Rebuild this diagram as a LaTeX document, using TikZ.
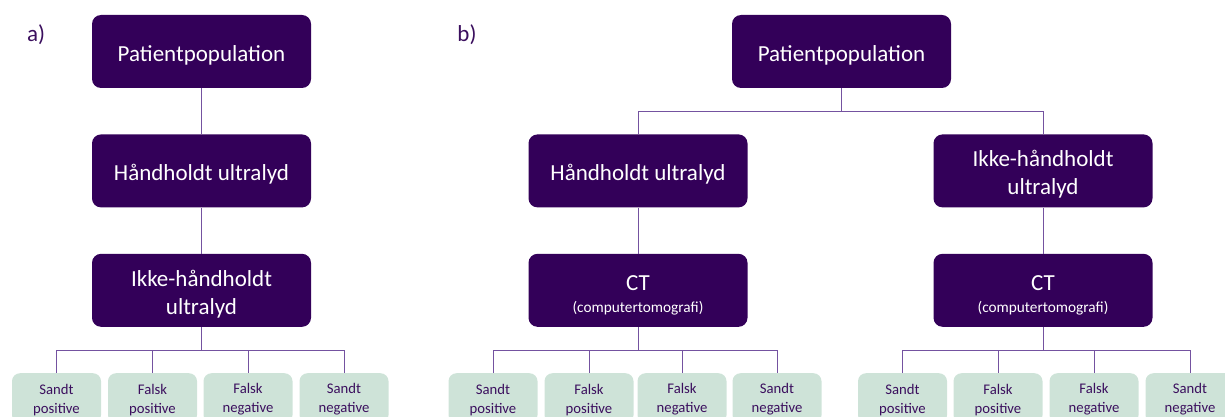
\documentclass[tikz,border=0pt]{standalone}
\usepackage{fontspec}
\setmainfont{Carlito}
\usetikzlibrary{positioning,calc}
\definecolor{darkpurple}{HTML}{330059}
\definecolor{linepurple}{HTML}{7452A0}
\definecolor{leafgreen}{HTML}{CEE3D8}
\definecolor{leaftext}{HTML}{3B0F5E}
\tikzset{
    lower/.style={execute at begin node={\rule{0pt}{#1}}},
    big_block/.style={rectangle, rounded corners=9pt, fill=darkpurple, text=white, minimum width=219pt, minimum height=73pt, inner sep=0pt, text centered, align=center, font=\fontsize{23}{28}\selectfont, lower=23pt},
    two_block/.style={big_block, lower=51.5pt},
    ct_block/.style={big_block, lower=47.5pt},
    leaf/.style={rectangle, rounded corners=8pt, fill=leafgreen, text=leaftext, minimum width=89pt, minimum height=50pt, inner sep=0pt, text centered, align=center, font=\fontsize{14.7}{19}\selectfont, lower=32pt},
    link/.style={draw=linepurple, line width=0.9pt},
    panel/.style={text=leaftext, font=\fontsize{23}{27}\selectfont},
}

\begin{document}
\begin{tikzpicture}[x=1pt, y=1pt, node distance=46pt]
        \useasboundingbox (0,0) rectangle (1225,-417);

        % Panel a: one chain
        \node[panel] (labela) at (36,-35) {a)};
        \node[big_block] (apop) at (201.5,-51.5) {Patientpopulation};
        \node[big_block,below=of apop] (ahh) {Håndholdt ultralyd};
        \node[two_block,below=of ahh] (aikke) {Ikke-håndholdt\\ultralyd};

        % Panel a: outcomes
        \node[leaf,below=of aikke,xshift=-145pt] (asp) {Sandt\\positive};
        \node[leaf,below=of aikke,xshift=-49pt] (afp) {Falsk\\positive};
        \node[leaf,below=of aikke,xshift=46.5pt] (afn) {Falsk\\negative};
        \node[leaf,below=of aikke,xshift=142.5pt] (asn) {Sandt\\negative};

        % Panel b: two branches
        \node[panel] (labelb) at (467,-35) {b)};
        \node[big_block] (bpop) at (841.5,-51.5) {Patientpopulation};
        \node[big_block,below=of bpop,xshift=-203.5pt] (bhh) {Håndholdt ultralyd};
        \node[two_block,below=of bpop,xshift=201.5pt] (bikke) {Ikke-håndholdt\\ultralyd};
        \node[ct_block,below=of bhh] (bct1) {CT\\[-6pt]{\fontsize{15.3}{18}\selectfont (computertomografi)}};
        \node[ct_block,below=of bikke] (bct2) {CT\\[-6pt]{\fontsize{15.3}{18}\selectfont (computertomografi)}};

        % Panel b: outcomes, left branch
        \node[leaf,below=of bct1,xshift=-145pt] (bsp1) {Sandt\\positive};
        \node[leaf,below=of bct1,xshift=-49pt] (bfp1) {Falsk\\positive};
        \node[leaf,below=of bct1,xshift=44pt] (bfn1) {Falsk\\negative};
        \node[leaf,below=of bct1,xshift=139pt] (bsn1) {Sandt\\negative};

        % Panel b: outcomes, right branch
        \node[leaf,below=of bct2,xshift=-140.5pt] (bsp2) {Sandt\\positive};
        \node[leaf,below=of bct2,xshift=-45pt] (bfp2) {Falsk\\positive};
        \node[leaf,below=of bct2,xshift=51pt] (bfn2) {Falsk\\negative};
        \node[leaf,below=of bct2,xshift=147pt] (bsn2) {Sandt\\negative};

        % Connectors of panel a
        \draw[link] (apop) -- (ahh);
        \draw[link] (ahh) -- (aikke);
        \draw[link] (aikke.south) -- ++(0,-23) -| (asp.north);
        \draw[link] (aikke.south) -- ++(0,-23) -| (afp.north);
        \draw[link] (aikke.south) -- ++(0,-23) -| (afn.north);
        \draw[link] (aikke.south) -- ++(0,-23) -| (asn.north);

        % Connectors of panel b
        \draw[link] (bpop.south) -- ++(0,-23) -| (bhh.north);
        \draw[link] (bpop.south) -- ++(0,-23) -| (bikke.north);
        \draw[link] (bhh) -- (bct1);
        \draw[link] (bikke) -- (bct2);
        \draw[link] (bct1.south) -- ++(0,-23) -| (bsp1.north);
        \draw[link] (bct1.south) -- ++(0,-23) -| (bfp1.north);
        \draw[link] (bct1.south) -- ++(0,-23) -| (bfn1.north);
        \draw[link] (bct1.south) -- ++(0,-23) -| (bsn1.north);
        \draw[link] (bct2.south) -- ++(0,-23) -| (bsp2.north);
        \draw[link] (bct2.south) -- ++(0,-23) -| (bfp2.north);
        \draw[link] (bct2.south) -- ++(0,-23) -| (bfn2.north);
        \draw[link] (bct2.south) -- ++(0,-23) -| (bsn2.north);
\end{tikzpicture}
\end{document}
